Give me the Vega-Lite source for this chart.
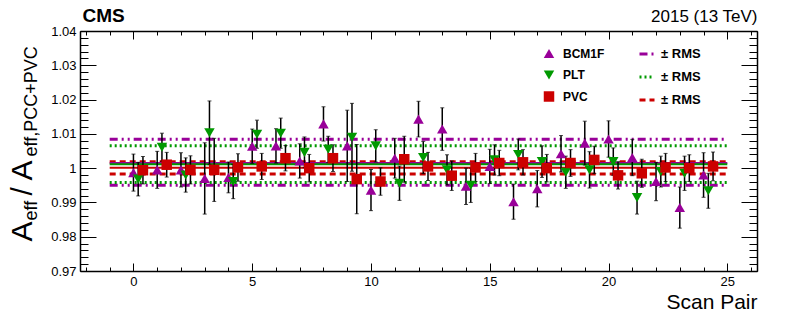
{
  "$schema": "https://vega.github.io/schema/vega-lite/v6.json",
  "width": 677,
  "height": 240,
  "autosize": {"type": "none"},
  "padding": {"left": 80, "top": 31, "right": 32, "bottom": 41},
  "background": "white",
  "config": {
    "view": {"stroke": null},
    "font": "Liberation Sans",
    "axis": {"grid": false, "labelFont": "Liberation Sans", "titleFont": "Liberation Sans", "tickColor": "black", "domainColor": "black", "labelColor": "black", "titleColor": "black", "tickWidth": 1},
    "legend": {"labelFont": "Liberation Sans", "labelColor": "black"}
  },
  "datasets": {
    "pts": [
      {"det": "BCM1F", "pos": 0, "val": 0.9987, "err": 0.0054},
      {"det": "BCM1F", "pos": 1, "val": 0.9995, "err": 0.0054},
      {"det": "BCM1F", "pos": 2, "val": 0.9995, "err": 0.005},
      {"det": "BCM1F", "pos": 3, "val": 0.997, "err": 0.0104},
      {"det": "BCM1F", "pos": 4, "val": 0.9973, "err": 0.0045},
      {"det": "BCM1F", "pos": 5, "val": 1.0064, "err": 0.005},
      {"det": "BCM1F", "pos": 6, "val": 1.0065, "err": 0.005},
      {"det": "BCM1F", "pos": 7, "val": 1.0021, "err": 0.005},
      {"det": "BCM1F", "pos": 8, "val": 1.0129, "err": 0.005},
      {"det": "BCM1F", "pos": 9, "val": 1.0065, "err": 0.0104},
      {"det": "BCM1F", "pos": 10, "val": 0.9936, "err": 0.006},
      {"det": "BCM1F", "pos": 11, "val": 1.0029, "err": 0.0058},
      {"det": "BCM1F", "pos": 12, "val": 1.0143, "err": 0.0052},
      {"det": "BCM1F", "pos": 13, "val": 1.0114, "err": 0.0062},
      {"det": "BCM1F", "pos": 14, "val": 0.9947, "err": 0.0053},
      {"det": "BCM1F", "pos": 15, "val": 1.0005, "err": 0.005},
      {"det": "BCM1F", "pos": 16, "val": 0.9902, "err": 0.0051},
      {"det": "BCM1F", "pos": 17, "val": 0.994, "err": 0.0053},
      {"det": "BCM1F", "pos": 18, "val": 1.0042, "err": 0.0053},
      {"det": "BCM1F", "pos": 19, "val": 1.0073, "err": 0.0064},
      {"det": "BCM1F", "pos": 20, "val": 1.0085, "err": 0.0053},
      {"det": "BCM1F", "pos": 21, "val": 1.0031, "err": 0.0053},
      {"det": "BCM1F", "pos": 22, "val": 0.9961, "err": 0.0056},
      {"det": "BCM1F", "pos": 23, "val": 0.9885, "err": 0.006},
      {"det": "BCM1F", "pos": 24, "val": 0.998, "err": 0.0065},
      {"det": "PLT", "pos": 0.2, "val": 0.9968, "err": 0.0049},
      {"det": "PLT", "pos": 1.2, "val": 1.0061, "err": 0.0041},
      {"det": "PLT", "pos": 2.2, "val": 0.998, "err": 0.005},
      {"det": "PLT", "pos": 3.2, "val": 1.0103, "err": 0.0093},
      {"det": "PLT", "pos": 4.2, "val": 0.9961, "err": 0.005},
      {"det": "PLT", "pos": 5.2, "val": 1.0099, "err": 0.0041},
      {"det": "PLT", "pos": 6.2, "val": 1.0102, "err": 0.0044},
      {"det": "PLT", "pos": 7.2, "val": 1.0046, "err": 0.0045},
      {"det": "PLT", "pos": 8.2, "val": 1.0055, "err": 0.0038},
      {"det": "PLT", "pos": 9.2, "val": 1.009, "err": 0.0099},
      {"det": "PLT", "pos": 10.2, "val": 1.0065, "err": 0.0047},
      {"det": "PLT", "pos": 11.2, "val": 0.9956, "err": 0.005},
      {"det": "PLT", "pos": 12.2, "val": 1.0031, "err": 0.0047},
      {"det": "PLT", "pos": 13.2, "val": 0.9995, "err": 0.0044},
      {"det": "PLT", "pos": 14.2, "val": 0.995, "err": 0.005},
      {"det": "PLT", "pos": 15.2, "val": 1.0024, "err": 0.0044},
      {"det": "PLT", "pos": 16.2, "val": 1.004, "err": 0.0045},
      {"det": "PLT", "pos": 17.2, "val": 1.0019, "err": 0.0046},
      {"det": "PLT", "pos": 18.2, "val": 0.9988, "err": 0.0047},
      {"det": "PLT", "pos": 19.2, "val": 0.9995, "err": 0.0053},
      {"det": "PLT", "pos": 20.2, "val": 1.0019, "err": 0.004},
      {"det": "PLT", "pos": 21.2, "val": 0.9914, "err": 0.0048},
      {"det": "PLT", "pos": 22.2, "val": 0.999, "err": 0.0045},
      {"det": "PLT", "pos": 23.2, "val": 0.9985, "err": 0.005},
      {"det": "PLT", "pos": 24.2, "val": 0.9934, "err": 0.0051},
      {"det": "PVC", "pos": 0.4, "val": 0.9994, "err": 0.004},
      {"det": "PVC", "pos": 1.4, "val": 1.001, "err": 0.0036},
      {"det": "PVC", "pos": 2.4, "val": 0.9995, "err": 0.0041},
      {"det": "PVC", "pos": 3.4, "val": 0.9995, "err": 0.0092},
      {"det": "PVC", "pos": 4.4, "val": 1.0002, "err": 0.004},
      {"det": "PVC", "pos": 5.4, "val": 1.0005, "err": 0.0038},
      {"det": "PVC", "pos": 6.4, "val": 1.0029, "err": 0.0037},
      {"det": "PVC", "pos": 7.4, "val": 1.0, "err": 0.004},
      {"det": "PVC", "pos": 8.4, "val": 1.0029, "err": 0.0039},
      {"det": "PVC", "pos": 9.4, "val": 0.9968, "err": 0.0101},
      {"det": "PVC", "pos": 10.4, "val": 0.9961, "err": 0.004},
      {"det": "PVC", "pos": 11.4, "val": 1.0026, "err": 0.0067},
      {"det": "PVC", "pos": 12.4, "val": 1.0005, "err": 0.0041},
      {"det": "PVC", "pos": 13.4, "val": 0.9978, "err": 0.0043},
      {"det": "PVC", "pos": 14.4, "val": 1.0002, "err": 0.0041},
      {"det": "PVC", "pos": 15.4, "val": 1.0015, "err": 0.0037},
      {"det": "PVC", "pos": 16.4, "val": 1.0017, "err": 0.0037},
      {"det": "PVC", "pos": 17.4, "val": 1.0, "err": 0.004},
      {"det": "PVC", "pos": 18.4, "val": 1.0015, "err": 0.0039},
      {"det": "PVC", "pos": 19.4, "val": 1.0024, "err": 0.004},
      {"det": "PVC", "pos": 20.4, "val": 0.9979, "err": 0.004},
      {"det": "PVC", "pos": 21.4, "val": 0.9985, "err": 0.0041},
      {"det": "PVC", "pos": 22.4, "val": 1.0002, "err": 0.0041},
      {"det": "PVC", "pos": 23.4, "val": 1.0, "err": 0.0039},
      {"det": "PVC", "pos": 24.4, "val": 1.0005, "err": 0.0042}
    ],
    "rms": [
      {"band": "BCM1F ± RMS", "y": 1.0084},
      {"band": "BCM1F ± RMS", "y": 0.995},
      {"band": "PLT ± RMS", "y": 1.0065},
      {"band": "PLT ± RMS", "y": 0.9958},
      {"band": "PVC ± RMS", "y": 1.0019},
      {"band": "PVC ± RMS", "y": 0.9983}
    ],
    "means": [
      {"det": "BCM1F", "y": 1.0015},
      {"det": "PLT", "y": 1.0011},
      {"det": "PVC", "y": 1.0001}
    ]
  },
  "layer": [
    {
      "data": {"name": "rms"},
      "mark": {"type": "rule", "strokeWidth": 3},
      "encoding": {
        "x": {"datum": -1, "type": "quantitative", "scale": {"domain": [-2.25, 26.25], "nice": false, "zero": false},
          "axis": {"orient": "top", "values": [-2,-1,0,1,2,3,4,5,6,7,8,9,10,11,12,13,14,15,16,17,18,19,20,21,22,23,24,25,26], "tickSize": -4, "domain": false, "labels": false,
            "title": "CMS", "titleFontSize": 19, "titleFontWeight": "bold", "titleX": 2, "titleY": -10, "titleAlign": "left", "titleBaseline": "alphabetic"}},
        "x2": {"datum": 25},
        "y": {"field": "y", "type": "quantitative", "scale": {"domain": [0.97, 1.04], "nice": false, "zero": false},
          "axis": {"orient": "right", "values": [0.97,0.972,0.974,0.976,0.978,0.98,0.982,0.984,0.986,0.988,0.99,0.992,0.994,0.996,0.998,1,1.002,1.004,1.006,1.008,1.01,1.012,1.014,1.016,1.018,1.02,1.022,1.024,1.026,1.028,1.03,1.032,1.034,1.036,1.038,1.04], "tickSize": -8, "domain": false, "labels": false,
            "title": "eff,PCC+PVC", "titleFontSize": 18, "titleFontWeight": "normal", "titleAngle": 270, "titleX": -721, "titleY": 125, "titleAlign": "left", "titleBaseline": "alphabetic"}},
        "stroke": {"field": "band", "type": "nominal",
          "scale": {"domain": ["BCM1F ± RMS", "PLT ± RMS", "PVC ± RMS"], "range": ["#990099", "#009900", "#cc0000"]},
          "legend": {"orient": "none", "legendX": 558, "legendY": 14, "title": null, "symbolType": "stroke", "symbolSize": 225, "symbolStrokeWidth": 3, "labelExpr": "'± RMS'", "labelFontSize": 13, "labelFontWeight": "bold", "labelOffset": 5, "rowPadding": 7, "padding": 0}},
        "strokeDash": {"field": "band", "type": "nominal",
          "scale": {"domain": ["BCM1F ± RMS", "PLT ± RMS", "PVC ± RMS"], "range": [[8, 4, 2, 4, 2, 4], [2, 3], [6, 4]]},
          "legend": {"orient": "none", "legendX": 558, "legendY": 14, "title": null, "symbolType": "stroke", "symbolSize": 225, "symbolStrokeWidth": 3, "labelExpr": "'± RMS'", "labelFontSize": 13, "labelFontWeight": "bold", "labelOffset": 5, "rowPadding": 7, "padding": 0}}
      }
    },
    {
      "data": {"name": "means"},
      "transform": [{"filter": "datum.det === 'BCM1F'"}],
      "mark": {"type": "rule", "strokeWidth": 2, "color": "#990099"},
      "encoding": {
        "x": {"datum": -1, "type": "quantitative", "scale": {"domain": [-2.25, 26.25], "nice": false, "zero": false},
          "axis": {"orient": "top", "values": [0, 5, 10, 15, 20, 25], "tickSize": -8, "domain": true, "domainWidth": 1.5, "labels": false,
            "title": "2015 (13 TeV)", "titleFontSize": 17, "titleFontWeight": "normal", "titleX": 677, "titleY": -10, "titleAlign": "right", "titleBaseline": "alphabetic"}},
        "x2": {"datum": 25},
        "y": {"field": "y", "type": "quantitative", "scale": {"domain": [0.97, 1.04], "nice": false, "zero": false},
          "axis": {"orient": "right", "values": [0.97, 0.98, 0.99, 1, 1.01, 1.02, 1.03, 1.04], "tickSize": -16, "domain": true, "domainWidth": 1.5, "labels": false,
            "title": "/ A", "titleFontSize": 30, "titleFontWeight": "normal", "titleAngle": 270, "titleX": -726, "titleY": 164, "titleAlign": "left", "titleBaseline": "alphabetic"}}
      }
    },
    {
      "data": {"name": "means"},
      "transform": [{"filter": "datum.det === 'PLT'"}],
      "mark": {"type": "rule", "strokeWidth": 2, "color": "#009900"},
      "encoding": {
        "x": {"datum": -1, "type": "quantitative", "scale": {"domain": [-2.25, 26.25], "nice": false, "zero": false}, "axis": null},
        "x2": {"datum": 25},
        "y": {"field": "y", "type": "quantitative", "scale": {"domain": [0.97, 1.04], "nice": false, "zero": false}, "axis": null}
      }
    },
    {
      "data": {"name": "means"},
      "transform": [{"filter": "datum.det === 'PVC'"}],
      "mark": {"type": "rule", "strokeWidth": 2, "color": "#cc0000"},
      "encoding": {
        "x": {"datum": -1, "type": "quantitative", "scale": {"domain": [-2.25, 26.25], "nice": false, "zero": false}, "axis": null},
        "x2": {"datum": 25},
        "y": {"field": "y", "type": "quantitative", "scale": {"domain": [0.97, 1.04], "nice": false, "zero": false}, "axis": null}
      }
    },
    {
      "data": {"name": "pts"},
      "mark": {"type": "errorbar", "ticks": {"size": 4, "color": "black", "strokeWidth": 1.5}, "rule": {"color": "black", "strokeWidth": 1.5}},
      "encoding": {
        "x": {"field": "pos", "type": "quantitative", "scale": {"domain": [-2.25, 26.25], "nice": false, "zero": false},
          "axis": {"orient": "bottom", "values": [-2,-1,0,1,2,3,4,5,6,7,8,9,10,11,12,13,14,15,16,17,18,19,20,21,22,23,24,25,26], "tickSize": -4, "domain": false, "labels": false, "title": null}},
        "y": {"field": "val", "type": "quantitative", "scale": {"domain": [0.97, 1.04], "nice": false, "zero": false},
          "axis": {"orient": "left", "values": [0.97,0.972,0.974,0.976,0.978,0.98,0.982,0.984,0.986,0.988,0.99,0.992,0.994,0.996,0.998,1,1.002,1.004,1.006,1.008,1.01,1.012,1.014,1.016,1.018,1.02,1.022,1.024,1.026,1.028,1.03,1.032,1.034,1.036,1.038,1.04], "tickSize": -8, "domain": false, "labels": false,
            "title": "eff", "titleFontSize": 18, "titleFontWeight": "normal", "titleAngle": 270, "titleX": -44, "titleY": 189, "titleAlign": "left", "titleBaseline": "alphabetic"}},
        "yError": {"field": "err"}
      }
    },
    {
      "data": {"name": "pts"},
      "mark": {"type": "point", "filled": true, "size": 110, "strokeWidth": 0, "opacity": 1},
      "encoding": {
        "x": {"field": "pos", "type": "quantitative", "scale": {"domain": [-2.25, 26.25], "nice": false, "zero": false},
          "axis": {"orient": "bottom", "values": [0, 5, 10, 15, 20, 25], "tickSize": -8, "domain": true, "domainWidth": 1.5, "labels": true, "labelFontSize": 13, "labelPadding": 12,
            "title": "Scan Pair", "titleFontSize": 21, "titleFontWeight": "normal", "titleX": 677, "titleY": 37, "titleAlign": "right", "titleBaseline": "alphabetic"}},
        "y": {"field": "val", "type": "quantitative", "scale": {"domain": [0.97, 1.04], "nice": false, "zero": false},
          "axis": {"orient": "left", "values": [0.97, 0.98, 0.99, 1, 1.01, 1.02, 1.03, 1.04], "format": "~g", "tickSize": -16, "domain": true, "domainWidth": 1.5, "labels": true, "labelFontSize": 13, "labelPadding": 20,
            "title": "A", "titleFontSize": 30, "titleFontWeight": "normal", "titleAngle": 270, "titleX": -49, "titleY": 210, "titleAlign": "left", "titleBaseline": "alphabetic"}},
        "color": {"field": "det", "type": "nominal", "scale": {"domain": ["BCM1F", "PLT", "PVC"], "range": ["#990099", "#009900", "#cc0000"]},
          "legend": {"orient": "none", "legendX": 463, "legendY": 16.5, "title": null, "symbolSize": 110, "symbolStrokeWidth": 0, "labelFontSize": 12, "labelFontWeight": "bold", "labelOffset": 8, "rowPadding": 9.5, "padding": 0}},
        "shape": {"field": "det", "type": "nominal", "scale": {"domain": ["BCM1F", "PLT", "PVC"], "range": ["triangle-up", "triangle-down", "square"]},
          "legend": {"orient": "none", "legendX": 463, "legendY": 16.5, "title": null, "symbolSize": 110, "symbolStrokeWidth": 0, "labelFontSize": 12, "labelFontWeight": "bold", "labelOffset": 8, "rowPadding": 9.5, "padding": 0}}
      }
    }
  ],
  "resolve": {"axis": {"x": "independent", "y": "independent"}}
}
